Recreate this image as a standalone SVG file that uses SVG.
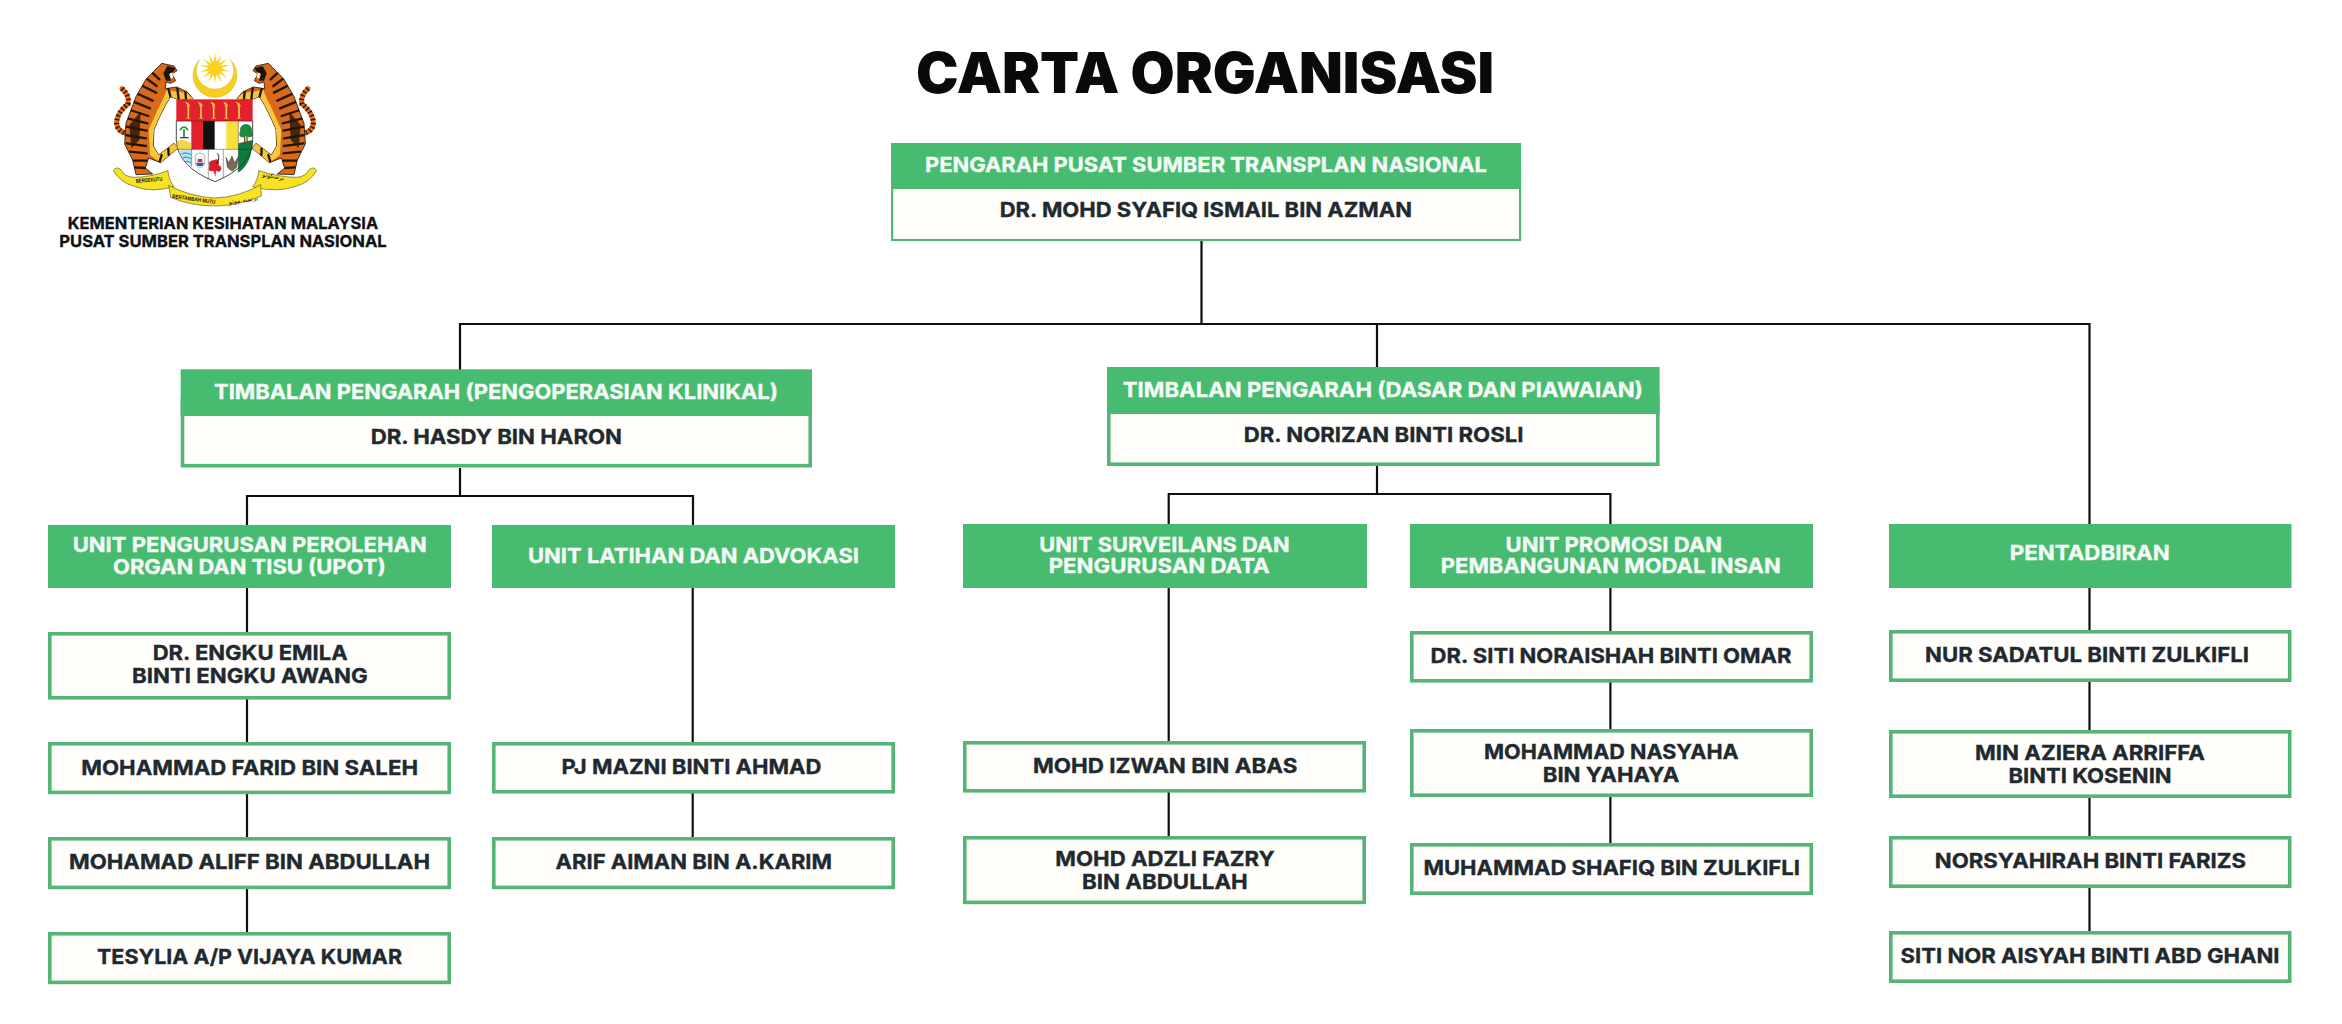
<svg xmlns="http://www.w3.org/2000/svg" xmlns:xlink="http://www.w3.org/1999/xlink" width="2342" height="1024" viewBox="0 0 2342 1024">
<style>
text{font-family:Inter,"Liberation Sans",sans-serif;font-weight:700}
.h{fill:#47BB6F}
.b{fill:#FFFEFB;stroke:#55B577;stroke-width:3.6}
.b2{fill:#FFFEFB;stroke:#55B577;stroke-width:2.2}
.t{fill:#F4FBF6;font-size:20.5px;stroke:#F4FBF6;stroke-width:.35}
.n{fill:#1F2A30;font-size:20.5px;stroke:#1F2A30;stroke-width:.35}
.l{fill:#101114;font-size:16.5px;stroke:#101114;stroke-width:.3}
.c{fill:none;stroke:#0E0E0E;stroke-width:2.2}
.st{fill:none;stroke:#231509;stroke-width:7;stroke-linecap:round}
.em{fill:#1a1a12;font-family:"Liberation Sans",sans-serif;font-weight:700}
</style>
<defs>
<clipPath id="tigerClip"><path d="M160 95 L185 70 L222 78 L231 92 L216 102 L227 122 L212 130 L198 126 L196 146 L230 141 L262 156 L279 176 L238 180 L212 170 L196 196 L178 232 L162 268 L160 318 L176 345 L222 310 L234 324 L182 368 L146 354 L136 384 L158 402 L108 404 L98 360 L74 312 L78 250 L108 170 L138 118 Z"/></clipPath>
<g id="tiger">
<path d="M84 282 Q48 274 50 245 Q54 215 84 192 Q90 168 66 146" fill="none" stroke="#D9691B" stroke-width="15" stroke-linecap="round"/>
<path d="M84 282 Q48 274 50 245 Q54 215 84 192 Q90 168 66 146" fill="none" stroke="#231509" stroke-width="15" stroke-dasharray="4 8"/>
<path d="M160 95 L185 70 L222 78 L231 92 L216 102 L227 122 L212 130 L198 126 L196 146 L230 141 L262 156 L279 176 L238 180 L212 170 L196 196 L178 232 L162 268 L160 318 L176 345 L222 310 L234 324 L182 368 L146 354 L136 384 L158 402 L108 404 L98 360 L74 312 L78 250 L108 170 L138 118 Z" fill="#D9691B" stroke="#231509" stroke-width="2.5" stroke-linejoin="round"/>
<g clip-path="url(#tigerClip)">
<path d="M200 150 L262 160 L279 176 L238 180 L212 170 L196 196 L178 232 L162 268 L160 318 L176 345 L222 310 L234 324 L182 368 L150 345 L146 270 L170 215 L190 175Z" fill="#F8C63C"/>
<path class="st" d="M150 92 L178 118 M135 112 L170 138 M122 135 L168 158 M110 160 L158 182 M100 185 L150 205 M90 210 L145 228 M82 235 L142 250 M78 260 L140 272 M76 285 L138 295 M80 310 L138 318 M90 335 L140 340 M100 362 L140 362 M104 382 L136 384 M205 146 L212 172 M232 145 L236 178 M256 155 L258 176 M185 345 L178 368 M205 325 L206 345"/>
<path d="M88 255 L122 215 L118 300 L94 325 Z" fill="#231509" opacity=".8"/>
<path d="M202 78 L226 84 L222 94 L206 102 L214 122 L198 122 L190 100 Z" fill="#1b120a"/>
<path d="M210 100 L222 98 L220 112 L212 116 Z" fill="#fff"/>
</g>
</g>
<polygon id="ray" points="345,38 351.5,85 345,132 338.5,85" fill="#FBD31E"/>
<g id="torch"><path d="M0 14 V50" stroke="#F3C74A" stroke-width="5"/><path d="M-8 2 Q4 4 4 14 L-3 14 Q-2 8 -8 2Z M-7 50 H7" fill="#F3C74A" stroke="#F3C74A" stroke-width="2"/></g>
</defs>
<rect width="2342" height="1024" fill="#FFFFFF"/>

<g id="emblem" transform="translate(100 40) scale(.33333)">
<g id="sun-crescent">
<path d="M300 58 A66 66 0 1 0 390 58 A56 56 0 1 1 300 58Z" fill="#F5CE1E" stroke="#C9A414" stroke-width="1"/>
<use xlink:href="#ray"/><use xlink:href="#ray" transform="rotate(25.71 345 85)"/><use xlink:href="#ray" transform="rotate(51.43 345 85)"/><use xlink:href="#ray" transform="rotate(77.14 345 85)"/><use xlink:href="#ray" transform="rotate(102.86 345 85)"/><use xlink:href="#ray" transform="rotate(128.57 345 85)"/><use xlink:href="#ray" transform="rotate(154.29 345 85)"/>
<circle cx="345" cy="85" r="22" fill="#FBD31E"/>
</g>
<use xlink:href="#tiger"/>
<use xlink:href="#tiger" transform="translate(690 0) scale(-1 1)"/>
<g id="shield">
<path d="M229 243 V300 Q232 380 345 425 Q456 380 458 300 V243Z" fill="#FFFFFF" stroke="#222" stroke-width="1.5"/>
<rect x="229" y="178" width="229" height="65" fill="#E3202E"/>
<use xlink:href="#torch" x="265" y="185"/><use xlink:href="#torch" x="303" y="185"/><use xlink:href="#torch" x="341" y="185"/><use xlink:href="#torch" x="379" y="185"/><use xlink:href="#torch" x="417" y="185"/>
<rect x="275" y="243" width="34" height="85" fill="#E3202E"/>
<rect x="309" y="243" width="35" height="85" fill="#111"/>
<rect x="379" y="243" width="36" height="85" fill="#F9E03A"/>
<path d="M415 310 L458 300 Q456 372 415 398Z" fill="#0E7A3C"/>
<path d="M434 312 V282 M441 312 V282" stroke="#7A4A21" stroke-width="4"/>
<circle cx="438" cy="270" r="18" fill="#1F8A3F"/>
<circle cx="428" cy="282" r="10" fill="#1F8A3F"/><circle cx="448" cy="282" r="10" fill="#1F8A3F"/>
<path d="M231 302 Q252 296 275 310 V328 H229Z" fill="#F3D74A"/>
<path d="M252 292 V268 M240 270 Q252 252 264 270" fill="none" stroke="#1B8A48" stroke-width="5"/>
<path d="M240 293 H266" stroke="#444" stroke-width="4"/>
<path d="M238 328 H275 V382 Q248 362 238 328Z" fill="#BFE3F1"/>
<path d="M244 342 Q258 336 273 344 M248 354 Q260 348 273 356 M254 366 Q264 362 273 368" fill="none" stroke="#2A9BD0" stroke-width="3.5"/>
<path d="M286 345 L300 338 L314 345 V375 Q300 390 286 375Z" fill="#F7F7FA" stroke="#999" stroke-width="2"/>
<path d="M288 368 H312 L308 378 H292Z" fill="#2F58A8"/><path d="M293 357 H307 V366 H293Z" fill="#C2353F"/>
<path d="M342 360 Q360 352 356 376 Q372 382 358 396 L348 392 L346 410 L340 392 Q322 398 328 378 Q322 362 342 360Z" fill="#D61F2B"/>
<path d="M352 340 Q362 350 350 372" fill="none" stroke="#222" stroke-width="3"/>
<path d="M378 352 L386 368 L396 348 L404 368 L414 352 L410 382 L396 394 L382 382Z" fill="#7C6B52" stroke="#333" stroke-width="1.5"/>
<path d="M229 243 H458 M275 243 V380 M415 243 V396 M229 328 H458 M325 328 V416 M370 328 V414" stroke="#222" stroke-width="1.2" fill="none"/>
<path d="M229 243 V300 Q232 380 345 425 Q456 380 458 300 V243" fill="none" stroke="#222" stroke-width="1.5"/>
</g>
<g id="ribbons" fill="#F8E224" stroke="#2a2a10" stroke-width="1.5" stroke-linejoin="round">
<path d="M40 392 Q48 378 62 388 Q72 410 100 412 Q150 412 204 392 Q206 420 222 440 Q150 460 100 438 Q62 428 40 392Z"/>
<path d="M650 392 Q642 378 628 388 Q618 410 590 412 Q540 412 476 392 Q474 420 458 440 Q530 460 590 438 Q628 428 650 392Z"/>
<path d="M206 436 Q270 470 345 474 Q415 472 482 434 L484 468 Q415 498 345 498 Q270 498 212 472Z"/>
</g>
<text class="em" transform="translate(108 429) rotate(-5)" font-size="17" textLength="80" lengthAdjust="spacingAndGlyphs">BERSEKUTU</text>
<text class="em" transform="translate(216 474) rotate(8)" font-size="17" textLength="130" lengthAdjust="spacingAndGlyphs">BERTAMBAH MUTU</text>
<text transform="translate(475 480) rotate(-8)" text-anchor="end" font-size="19" fill="#1a1a12" style="font-family:'DejaVu Sans',sans-serif;font-weight:400">برتمبه موتو</text>
<text transform="translate(552 420) rotate(9)" text-anchor="end" font-size="19" fill="#1a1a12" style="font-family:'DejaVu Sans',sans-serif;font-weight:400">برسکوتو</text>
</g>
<g id="logo-caption">
<text class="l" x="67.7" y="229.3" textLength="310.5" lengthAdjust="spacingAndGlyphs">KEMENTERIAN KESIHATAN MALAYSIA</text>
<text class="l" x="59.3" y="247" textLength="327.4" lengthAdjust="spacingAndGlyphs">PUSAT SUMBER TRANSPLAN NASIONAL</text>
</g>
<g id="title"><text x="916" y="93" textLength="578" lengthAdjust="spacingAndGlyphs" style="font-size:56.5px;font-weight:900;fill:#0A0A0C">CARTA ORGANISASI</text></g>

<g id="connectors">
<path class="c" d="M1201.5 241V324M460 370V324H2089.5V524M1377 324V367"/>
<path class="c" d="M460 468V496M247 525V496H693V525"/>
<path class="c" d="M1377 466V494M1168.7 524V494H1610.4V524"/>
<path class="c" d="M247 588V932"/>
<path class="c" d="M692.7 588V838"/>
<path class="c" d="M1168.7 588V836"/>
<path class="c" d="M1610.4 588V843"/>
<path class="c" d="M2089.5 588V931"/>
</g>

<g id="n-pengarah">
<rect class="b2" x="892.1" y="170" width="628" height="70"/><rect class="h" x="891" y="143" width="630" height="46"/>
<text class="t" x="925" y="172" textLength="562" lengthAdjust="spacingAndGlyphs">PENGARAH PUSAT SUMBER TRANSPLAN NASIONAL</text>
<text class="n" x="999.7" y="217" textLength="412.3" lengthAdjust="spacingAndGlyphs">DR. MOHD SYAFIQ ISMAIL BIN AZMAN</text>
</g>
<g id="n-timbalan-klinikal">
<rect class="b" x="182.5" y="400" width="627.7" height="65.7"/><rect class="h" x="180.7" y="369.3" width="631.3" height="46.7"/>
<text class="t" x="214" y="398.7" textLength="564" lengthAdjust="spacingAndGlyphs">TIMBALAN PENGARAH (PENGOPERASIAN KLINIKAL)</text>
<text class="n" x="370.7" y="444" textLength="251.3" lengthAdjust="spacingAndGlyphs">DR. HASDY BIN HARON</text>
</g>
<g id="n-timbalan-dasar">
<rect class="b" x="1108.8" y="398" width="549" height="66.2"/><rect class="h" x="1107" y="367" width="552.6" height="47"/>
<text class="t" x="1122.7" y="397" textLength="520.3" lengthAdjust="spacingAndGlyphs">TIMBALAN PENGARAH (DASAR DAN PIAWAIAN)</text>
<text class="n" x="1243.7" y="442" textLength="279.8" lengthAdjust="spacingAndGlyphs">DR. NORIZAN BINTI ROSLI</text>
</g>

<g id="n-unit-upot">
<rect class="h" x="48" y="525" width="403" height="63"/>
<text class="t" x="72.7" y="552" textLength="354" lengthAdjust="spacingAndGlyphs">UNIT PENGURUSAN PEROLEHAN</text>
<text class="t" x="113" y="573.7" textLength="272.7" lengthAdjust="spacingAndGlyphs">ORGAN DAN TISU (UPOT)</text>
</g>
<g id="n-engku"><rect class="b" x="49.8" y="633.8" width="399.4" height="64"/>
<text class="n" x="152.7" y="660" textLength="195" lengthAdjust="spacingAndGlyphs">DR. ENGKU EMILA</text>
<text class="n" x="132" y="682.7" textLength="235.7" lengthAdjust="spacingAndGlyphs">BINTI ENGKU AWANG</text></g>
<g id="n-farid"><rect class="b" x="49.8" y="743.8" width="399.4" height="48.6"/>
<text class="n" x="81.3" y="774.7" textLength="336.7" lengthAdjust="spacingAndGlyphs">MOHAMMAD FARID BIN SALEH</text></g>
<g id="n-aliff"><rect class="b" x="49.8" y="838.8" width="399.4" height="48.6"/>
<text class="n" x="69" y="869" textLength="361" lengthAdjust="spacingAndGlyphs">MOHAMAD ALIFF BIN ABDULLAH</text></g>
<g id="n-tesylia"><rect class="b" x="49.8" y="933.8" width="399.4" height="48.6"/>
<text class="n" x="97" y="964" textLength="305" lengthAdjust="spacingAndGlyphs">TESYLIA A/P VIJAYA KUMAR</text></g>

<g id="n-unit-latihan">
<rect class="h" x="492" y="525" width="403" height="63"/>
<text class="t" x="528" y="562.7" textLength="331" lengthAdjust="spacingAndGlyphs">UNIT LATIHAN DAN ADVOKASI</text></g>
<g id="n-mazni"><rect class="b" x="493.8" y="743.8" width="399.4" height="48"/>
<text class="n" x="561.6" y="774" textLength="259.9" lengthAdjust="spacingAndGlyphs">PJ MAZNI BINTI AHMAD</text></g>
<g id="n-arif"><rect class="b" x="493.8" y="838.8" width="399.4" height="48.6"/>
<text class="n" x="555.6" y="869" textLength="276.4" lengthAdjust="spacingAndGlyphs">ARIF AIMAN BIN A.KARIM</text></g>

<g id="n-unit-surveilans">
<rect class="h" x="963" y="524" width="404" height="64"/>
<text class="t" x="1039.3" y="551.7" textLength="250.4" lengthAdjust="spacingAndGlyphs">UNIT SURVEILANS DAN</text>
<text class="t" x="1048.7" y="573.3" textLength="221" lengthAdjust="spacingAndGlyphs">PENGURUSAN DATA</text></g>
<g id="n-izwan"><rect class="b" x="964.8" y="742.8" width="399.4" height="48"/>
<text class="n" x="1033" y="772.7" textLength="264.3" lengthAdjust="spacingAndGlyphs">MOHD IZWAN BIN ABAS</text></g>
<g id="n-adzli"><rect class="b" x="964.8" y="837.8" width="399.4" height="64.6"/>
<text class="n" x="1055.3" y="866" textLength="219.4" lengthAdjust="spacingAndGlyphs">MOHD ADZLI FAZRY</text>
<text class="n" x="1082" y="889" textLength="165.7" lengthAdjust="spacingAndGlyphs">BIN ABDULLAH</text></g>

<g id="n-unit-promosi">
<rect class="h" x="1410" y="524" width="403" height="64"/>
<text class="t" x="1505.5" y="551.7" textLength="216.5" lengthAdjust="spacingAndGlyphs">UNIT PROMOSI DAN</text>
<text class="t" x="1440.8" y="573" textLength="339.9" lengthAdjust="spacingAndGlyphs">PEMBANGUNAN MODAL INSAN</text></g>
<g id="n-noraishah"><rect class="b" x="1411.8" y="632.8" width="399.4" height="48"/>
<text class="n" x="1430.6" y="663" textLength="360.9" lengthAdjust="spacingAndGlyphs">DR. SITI NORAISHAH BINTI OMAR</text></g>
<g id="n-nasyaha"><rect class="b" x="1411.8" y="730.8" width="399.4" height="64.4"/>
<text class="n" x="1484" y="758.7" textLength="254.7" lengthAdjust="spacingAndGlyphs">MOHAMMAD NASYAHA</text>
<text class="n" x="1542.7" y="781.7" textLength="136.7" lengthAdjust="spacingAndGlyphs">BIN YAHAYA</text></g>
<g id="n-shafiq"><rect class="b" x="1411.8" y="844.8" width="399.4" height="48.4"/>
<text class="n" x="1423.4" y="875" textLength="376.5" lengthAdjust="spacingAndGlyphs">MUHAMMAD SHAFIQ BIN ZULKIFLI</text></g>

<g id="n-pentadbiran">
<rect class="h" x="1889" y="524" width="402.5" height="64"/>
<text class="t" x="2009.7" y="560.3" textLength="160.1" lengthAdjust="spacingAndGlyphs">PENTADBIRAN</text></g>
<g id="n-sadatul"><rect class="b" x="1890.8" y="631.8" width="398.9" height="48.4"/>
<text class="n" x="1925" y="662.3" textLength="324" lengthAdjust="spacingAndGlyphs">NUR SADATUL BINTI ZULKIFLI</text></g>
<g id="n-aziera"><rect class="b" x="1890.8" y="731.8" width="398.9" height="64.4"/>
<text class="n" x="1975" y="760" textLength="230" lengthAdjust="spacingAndGlyphs">MIN AZIERA ARRIFFA</text>
<text class="n" x="2008.5" y="782.7" textLength="163.1" lengthAdjust="spacingAndGlyphs">BINTI KOSENIN</text></g>
<g id="n-norsyahirah"><rect class="b" x="1890.8" y="837.8" width="398.9" height="48.4"/>
<text class="n" x="1934.8" y="868" textLength="311.2" lengthAdjust="spacingAndGlyphs">NORSYAHIRAH BINTI FARIZS</text></g>
<g id="n-aisyah"><rect class="b" x="1890.8" y="932.8" width="398.9" height="48.4"/>
<text class="n" x="1900.6" y="962.7" textLength="378.9" lengthAdjust="spacingAndGlyphs">SITI NOR AISYAH BINTI ABD GHANI</text></g>
</svg>
